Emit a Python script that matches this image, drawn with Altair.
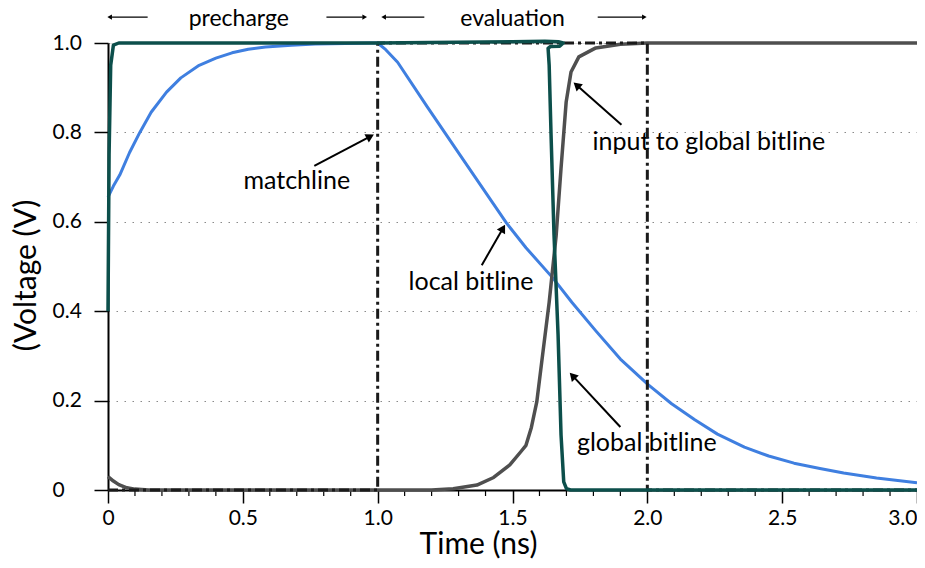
import math
import altair as alt
import pandas as pd

# ---------------- data ----------------
blue_t = [0, 0.02, 0.044, 0.08, 0.118, 0.16, 0.217, 0.27, 0.338, 0.4, 0.46, 0.52, 0.584, 0.68, 0.768, 0.88, 0.97, 1.0,
          1.03, 1.074, 1.184, 1.3, 1.4, 1.478, 1.55, 1.65, 1.72, 1.809, 1.9, 2.004, 2.09, 2.176, 2.26, 2.36, 2.45,
          2.544, 2.64, 2.728, 2.85, 3.0]
blue_v = [0.655, 0.68, 0.705, 0.755, 0.80, 0.845, 0.89, 0.922, 0.95, 0.966, 0.978, 0.986, 0.991, 0.995, 0.998, 0.999, 1.0, 1.0,
          0.985, 0.957, 0.857, 0.754, 0.666, 0.597, 0.542, 0.474, 0.42, 0.356, 0.293, 0.235, 0.193, 0.157, 0.125, 0.096, 0.076,
          0.06, 0.048, 0.038, 0.027, 0.016]

gray_t = [0, 0.02, 0.04, 0.07, 0.1, 0.15, 1.2, 1.28, 1.368, 1.43, 1.49, 1.53, 1.55, 1.57, 1.59, 1.613, 1.636, 1.662,
          1.68, 1.699, 1.717, 1.746, 1.809, 1.9, 2.0, 3.0]
gray_v = [0.03, 0.02, 0.012, 0.005, 0.002, 0.0, 0.0, 0.003, 0.011, 0.028, 0.056, 0.085, 0.10, 0.14, 0.197, 0.309, 0.42, 0.57,
          0.72, 0.868, 0.935, 0.969, 0.989, 0.997, 1.0, 1.0]

teal_t = [0, 0.004, 0.01, 0.02, 0.04, 0.5, 1.0, 1.5, 1.62, 1.67, 1.688, 1.675, 1.64, 1.632, 1.636, 1.643, 1.654, 1.669,
          1.68, 1.69, 1.70, 1.715, 3.0]
teal_v = [0.40, 0.75, 0.95, 0.995, 1.0, 1.0, 1.0, 1.003, 1.004, 1.003, 1.0, 0.993, 0.992, 0.988, 0.95, 0.794, 0.57, 0.347,
          0.123, 0.018, 0.003, 0.0, 0.0]

match_t = [0, 1.0, 1.0, 2.0, 2.0, 3.0]
match_v = [0, 0, 1.0, 1.0, 0, 0]

x_ticks = [0, 0.5, 1.0, 1.5, 2.0, 2.5, 3.0]
x_minor = [0.1, 0.2, 0.3, 0.4, 0.6, 0.7, 0.8, 0.9, 1.1, 1.2, 1.3, 1.4, 1.6, 1.7, 1.8, 1.9, 2.1, 2.2, 2.3, 2.4,
           2.6, 2.7, 2.8, 2.9]
y_ticks = [0, 0.2, 0.4, 0.6, 0.8, 1.0]

label_text = ["matchline", "local bitline", "input to global bitline", "global bitline"]
label_t = [0.70, 1.346, 2.228, 1.998]
label_v = [0.691, 0.465, 0.779, 0.105]
arrow_tail_t = [0.765, 1.386, 1.904, 1.90]
arrow_tail_v = [0.725, 0.503, 0.817, 0.141]
arrow_head_t = [0.989, 1.474, 1.724, 1.71]
arrow_head_v = [0.796, 0.595, 0.913, 0.264]

phase_text = ["precharge", "evaluation"]
phase_t = [0.485, 1.5]
phase_v = [1.037, 1.037]
phase_arrow_tail_t = [0.147, 0.81, 1.173, 1.816]
phase_arrow_head_t = [-0.005, 0.963, 1.011, 2.0]
phase_arrow_v = [1.058, 1.058, 1.058, 1.058]

# ---------------- layout ----------------
W, H = 809, 447
FONT = "Lato"
px_t = W / 3.0
px_v = H / 1.0

xs = alt.Scale(domain=[0, 3.0], nice=False, zero=False)
ys = alt.Scale(domain=[0, 1.0], nice=False, zero=False)

x_axis = alt.Axis(values=x_ticks, labelExpr="datum.value == 0 ? '0' : format(datum.value, '.1f')",
                  tickSize=13, tickWidth=1.5, tickColor="black", domainColor="black", domainWidth=2,
                  labelFont=FONT, labelFontSize=21, labelColor="black", labelPadding=4,
                  labelAlign={"expr": "datum.value >= 3 ? 'right' : 'center'"},
                  title="Time (ns)", titleFont=FONT, titleFontSize=30, titleFontWeight="normal",
                  titleColor="black", titleX=370, titleY=63, titleAlign="center", titleBaseline="alphabetic",
                  grid=False, labelFlush=False)
y_axis = alt.Axis(values=y_ticks, labelExpr="datum.value == 0 ? '0' : format(datum.value, '.1f')",
                  tickSize=14, tickWidth=1.5, tickColor="black", domainColor="black", domainWidth=2,
                  labelFont=FONT, labelFontSize=21, labelColor="black", labelPadding=42, labelAlign="left",
                  title="(Voltage (V)", titleFont=FONT, titleFontSize=30, titleFontWeight="normal",
                  titleColor="black", titleX=-82, titleY=232, titleAlign="center", titleBaseline="middle",
                  titleAngle=270, grid=True, gridDash=[1.5, 6.5], gridColor="#8a8a8a",
                  gridWidth=1, labelFlush=False)

X = lambda f="t:Q": alt.X(f, scale=xs, axis=x_axis)
Y = lambda f="v:Q": alt.Y(f, scale=ys, axis=y_axis)


def series_df(ts, vs):
    return pd.DataFrame({"t": ts, "v": vs, "i": list(range(len(ts)))})


def line_layer(ts, vs, color, width, dash=None):
    kw = dict(color=color, strokeWidth=width, clip=False, strokeJoin="round", strokeCap="butt")
    if dash:
        kw["strokeDash"] = dash
    return alt.Chart(series_df(ts, vs)).mark_line(**kw).encode(x=X(), y=Y(), order="i:Q")


blue = line_layer(blue_t, blue_v, "#3f7fe0", 3)
gray = line_layer(gray_t, gray_v, "#4f4f4f", 3.5)
teal = line_layer(teal_t, teal_v, "#0c4f4b", 3.5)
match = line_layer(match_t, match_v, "#1a1a1a", 3, dash=[10, 4, 3, 4])

minor = alt.Chart(pd.DataFrame({"t": x_minor})).mark_rule(color="black", strokeWidth=1.2).encode(
    x=X(), y=alt.value(H), y2=alt.value(H + 6))

labels = alt.Chart(pd.DataFrame({"t": label_t, "v": label_v, "txt": label_text})).mark_text(
    font=FONT, fontSize=25, color="black", align="center", baseline="middle").encode(
    x=X(), y=Y(), text="txt:N")

phases = alt.Chart(pd.DataFrame({"t": phase_t, "v": phase_v, "txt": phase_text})).mark_text(
    font=FONT, fontSize=23, color="black", align="center", baseline="alphabetic").encode(
    x=X(), y=Y(), text="txt:N")


def arrow_frames(tt, tv, ht, hv, back):
    rows_s, rows_h = [], []
    for a, b, c, d in zip(tt, tv, ht, hv):
        dx = (c - a) * px_t
        dy = -(d - b) * px_v
        L = math.hypot(dx, dy)
        ux, uy = dx / L, dy / L
        ang = math.degrees(math.atan2(dx, -dy)) % 360
        ct = c - ux * back / px_t
        cv = d + uy * back / px_v
        et = c - ux * (back + 2) / px_t
        ev = d + uy * (back + 2) / px_v
        rows_s.append({"t": a, "v": b, "t2": et, "v2": ev})
        rows_h.append({"t": ct, "v": cv, "ang": ang})
    return pd.DataFrame(rows_s), pd.DataFrame(rows_h)


s1, h1 = arrow_frames(arrow_tail_t, arrow_tail_v, arrow_head_t, arrow_head_v, 5)
shaft = alt.Chart(s1).mark_rule(color="black", strokeWidth=2).encode(
    x=X(), y=Y(), x2="t2:Q", y2="v2:Q")
head = alt.Chart(h1).mark_point(shape="triangle-up", filled=True, color="black", size=90, opacity=1).encode(
    x=X(), y=Y(), angle=alt.Angle("ang:Q", scale=None))

s2, h2 = arrow_frames(phase_arrow_tail_t, phase_arrow_v, phase_arrow_head_t, phase_arrow_v, 3)
pshaft = alt.Chart(s2).mark_rule(color="black", strokeWidth=1.2).encode(
    x=X(), y=Y(), x2="t2:Q", y2="v2:Q")
phead = alt.Chart(h2).mark_point(shape="triangle-up", filled=True, color="black", size=28, opacity=1).encode(
    x=X(), y=Y(), angle=alt.Angle("ang:Q", scale=None))

chart = alt.layer(
    blue, minor, labels, phases, gray, match, teal, shaft, head, pshaft, phead
).properties(
    width=W, height=H,
    autosize=alt.AutoSizeParams(type="none"),
    padding={"left": 100, "top": 35, "right": 0, "bottom": 70},
).configure_view(stroke=None).configure(background="white")

chart.save("out.html", embed_options={"renderer": "svg", "actions": False})
